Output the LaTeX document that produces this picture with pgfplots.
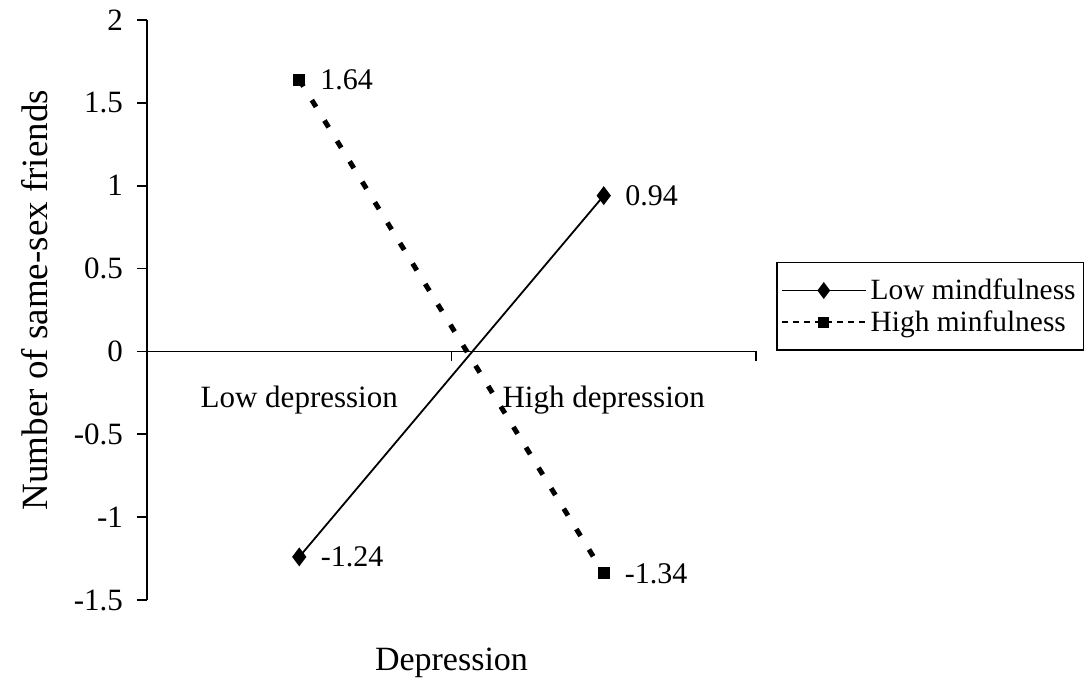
\documentclass[border=0pt]{standalone}
\usepackage{fontspec}
\setmainfont{Liberation Serif}
\usepackage{pgfplots}
\pgfplotsset{compat=1.18}
\begin{document}
\begin{tikzpicture}
\useasboundingbox (-73.5bp,-46bp) rectangle (471bp,300bp);
\begin{axis}[
  scale only axis,
  width=304.5bp, height=290bp,
  xmin=0, xmax=2, ymin=-1.5, ymax=2,
  axis x line=middle, axis y line=left,
  axis line style={-, line width=0.9bp},
  tick align=outside,
  major tick length=5bp, minor tick length=5bp,
  tick style={black, line width=0.9bp},
  ytick={-1.5,-1,-0.5,0,0.5,1,1.5,2},
  yticklabel style={font=\fontsize{15.5bp}{18bp}\selectfont, /pgf/number format/assume math mode=true, xshift=-3.5bp},
  xtick={0.5,1.5},
  xticklabels={Low depression, High depression},
  minor xtick={1,2},
  major x tick style={draw=none},
  xticklabel style={font=\fontsize{15.5bp}{18bp}\selectfont, yshift=-9bp},
  xlabel={Depression},
  xlabel style={at={(axis description cs:0.5,-0.109)}, anchor=center, font=\fontsize{17bp}{20bp}\selectfont},
  ylabel={Number of same-sex friends},
  ylabel style={at={(axis description cs:-0.184,0.517)}, anchor=center, font=\fontsize{18.5bp}{21bp}\selectfont},
  legend style={at={(axis description cs:1.033,0.583)}, anchor=north west, draw=black, line width=0.8bp,
    font=\fontsize{14.7bp}{17bp}\selectfont, cells={anchor=west, inner xsep=2bp, inner ysep=3bp},
    inner xsep=2bp, inner ysep=6bp, row sep=0bp},
  clip=false,
]
\addplot[black, line width=0.9bp, mark=diamond*, mark size=4bp, mark options={solid},
  nodes near coords, point meta=explicit symbolic,
  every node near coord/.append style={anchor=west, xshift=7bp, font=\fontsize{15bp}{17bp}\selectfont},
  legend image code/.code={\draw[black, line width=0.9bp] (0bp,0bp) -- (42bp,0bp);
    \draw[black, fill=black] plot[mark=diamond*, mark size=3.5bp] coordinates {(21bp,0bp)};}]
  coordinates {(0.5,-1.24) [-1.24] (1.5,0.94) [0.94]};
\addlegendentry{Low mindfulness}
\addplot[black, line width=2.5bp, dash pattern=on 4bp off 8bp, mark=square*, mark size=2.75bp, mark options={solid, line width=0.5bp},
  nodes near coords, point meta=explicit symbolic,
  every node near coord/.append style={anchor=west, xshift=7bp, font=\fontsize{15bp}{17bp}\selectfont},
  legend image code/.code={\draw[black, line width=0.8bp, dash pattern=on 3bp off 2.5bp] (0bp,0bp) -- (42bp,0bp);
    \draw[black, fill=black, solid] plot[mark=square*, mark size=2.5bp] coordinates {(21bp,0bp)};}]
  coordinates {(0.5,1.64) [1.64] (1.5,-1.34) [-1.34]};
\addlegendentry{High minfulness}
\end{axis}
\end{tikzpicture}
\end{document}
